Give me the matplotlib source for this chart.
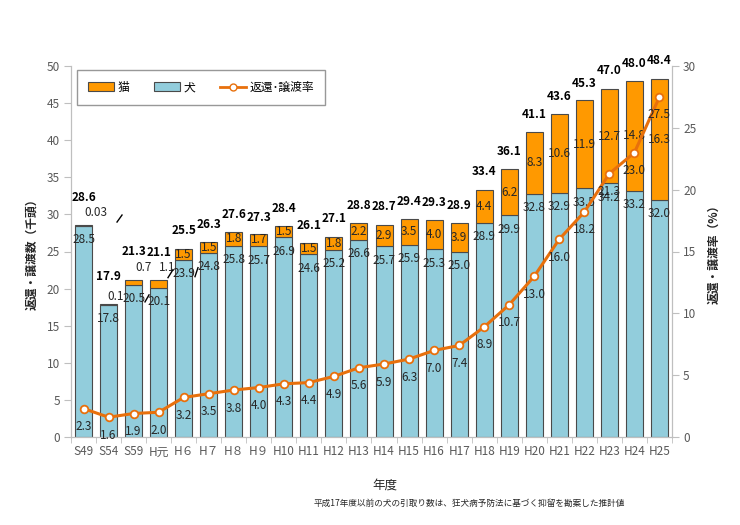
import matplotlib
matplotlib.use("Agg")
import matplotlib.pyplot as plt
from matplotlib.patches import Patch
from matplotlib.lines import Line2D

plt.rcParams['font.family'] = ['Noto Sans CJK JP', 'DejaVu Sans']

categories = ["S49", "S54", "S59", "H元", "H６", "H７", "H８", "H９", "H10", "H11", "H12",
              "H13", "H14", "H15", "H16", "H17", "H18", "H19", "H20", "H21", "H22",
              "H23", "H24", "H25"]
dogs = [28.5, 17.8, 20.5, 20.1, 23.9, 24.8, 25.8, 25.7, 26.9, 24.6, 25.2, 26.6,
        25.7, 25.9, 25.3, 25.0, 28.9, 29.9, 32.8, 32.9, 33.5, 34.2, 33.2, 32.0]
cats = [0.03, 0.1, 0.7, 1.1, 1.5, 1.5, 1.8, 1.7, 1.5, 1.5, 1.8, 2.2,
        2.9, 3.5, 4.0, 3.9, 4.4, 6.2, 8.3, 10.6, 11.9, 12.7, 14.8, 16.3]
totals = [28.6, 17.9, 21.3, 21.1, 25.5, 26.3, 27.6, 27.3, 28.4, 26.1, 27.1, 28.8,
          28.7, 29.4, 29.3, 28.9, 33.4, 36.1, 41.1, 43.6, 45.3, 47.0, 48.0, 48.4]
rates = [2.3, 1.6, 1.9, 2.0, 3.2, 3.5, 3.8, 4.0, 4.3, 4.4, 4.9, 5.6,
         5.9, 6.3, 7.0, 7.4, 8.9, 10.7, 13.0, 16.0, 18.2, 21.3, 23.0, 27.5]

DOG = "#92CDDC"
CAT = "#FF9900"
LINE = "#E8700C"
EDGE = "#4A4A4A"
TXT = "#262626"
TICK = "#595959"
AX = "#BFBFBF"

fig = plt.figure(figsize=(7.4, 5.25), dpi=100)
ax = fig.add_axes([71/740, 1-437/525, 601/740, 371/525])
x = list(range(len(categories)))

ax.bar(x, dogs, width=0.68, color=DOG, edgecolor=EDGE, linewidth=0.8, zorder=2)
ax.bar(x, cats, width=0.68, bottom=dogs, color=CAT, edgecolor=EDGE, linewidth=0.8, zorder=2)

ax.set_xlim(-0.5, len(categories) - 0.5)
ax.set_ylim(0, 50)
ax.set_yticks(range(0, 51, 5))
ax.set_xticks(x)
ax.set_xticklabels(categories)
ax.set_xticks([i - 0.5 for i in range(len(categories) + 1)], minor=True)
ax.tick_params(axis='x', which='major', length=0, pad=6, labelsize=8.5, labelcolor=TICK)
ax.tick_params(axis='x', which='minor', length=4, color=AX, direction='out')
ax.tick_params(axis='y', length=5, color=AX, labelsize=8.5, labelcolor=TICK, pad=3)
ax.spines['top'].set_visible(False)
for s in ['left', 'right', 'bottom']:
    ax.spines[s].set_color(AX)
ax.set_ylabel("返還・譲渡数（千頭）", fontsize=8.5, fontweight='bold', color=TXT, labelpad=6)

# small-cat label offsets (points) relative to bar total
small_off = {0: (9, 9), 1: (5.4, 5.2), 2: (7, 8.6), 3: (6.4, 9.6)}
for i in x:
    ax.annotate(f"{dogs[i]:.1f}", (i, dogs[i]), xytext=(0, -10), textcoords='offset points',
                ha='center', va='center', fontsize=8.5, color=TXT, zorder=5)
    if i in small_off:
        lab = "0.03" if cats[i] < 0.05 else f"{cats[i]:.1f}"
        ax.annotate(lab, (i, totals[i]), xytext=small_off[i], textcoords='offset points',
                    ha='center', va='center', fontsize=8.5, color=TXT, zorder=5)
        toff = 20
    else:
        ax.text(i, dogs[i] + cats[i] / 2, f"{cats[i]:.1f}", ha='center', va='center',
                fontsize=8.5, color=TXT, zorder=5)
        toff = 12.5
    ax.annotate(f"{totals[i]:.1f}", (i, totals[i]), xytext=(0, toff), textcoords='offset points',
                ha='center', va='center', fontsize=8.5, fontweight='bold', color='black', zorder=5)

# leader lines (pixel offsets relative to the dog segment top; +y = up)
leaders = [(0, 33.5, 3.5, 38.5, 10.5), (2, 11.4, -17, 15.4, -10),
           (4, -15.7, -18, -10.7, -10), (4, 11.3, -17, 14.3, -8)]
inv = ax.transData.inverted()
for i, x0, y0, x1, y1 in leaders:
    px, py = ax.transData.transform((i, dogs[i]))
    a = inv.transform((px + x0, py + y0))
    b = inv.transform((px + x1, py + y1))
    ax.plot([a[0], b[0]], [a[1], b[1]], color='black', lw=1.0, zorder=6, clip_on=False)

ax2 = ax.twinx()
ax2.set_ylim(0, 30)
ax2.set_yticks(range(0, 31, 5))
ax2.plot(x, rates, color=LINE, lw=2.2, marker='o', markersize=5.5,
         markerfacecolor='white', markeredgecolor=LINE, markeredgewidth=1.3, zorder=4)
for i in x:
    ax2.annotate(f"{rates[i]:.1f}", (i, rates[i]), xytext=(0, -13), textcoords='offset points',
                 ha='center', va='center', fontsize=8.5, color=TXT, zorder=5)
ax2.tick_params(axis='y', length=5, color=AX, labelsize=8.5, labelcolor=TICK, pad=3)
ax2.spines['top'].set_visible(False)
for s in ['left', 'right', 'bottom']:
    ax2.spines[s].set_color(AX)
ax2.set_ylabel("返還・譲渡率（%）", fontsize=8.5, fontweight='bold', color=TXT, labelpad=8)

handles = [Patch(facecolor=CAT, edgecolor=EDGE, linewidth=0.8),
           Patch(facecolor=DOG, edgecolor=EDGE, linewidth=0.8),
           Line2D([0], [0], color=LINE, lw=2, marker='o', markersize=5,
                  markerfacecolor='white', markeredgecolor=LINE)]
leg = ax2.legend(handles, ["猫", "犬", "返還･譲渡率"], loc='upper left',
                 bbox_to_anchor=(0.01, 0.988), borderaxespad=0, ncol=3, frameon=True,
                 fancybox=False, fontsize=8.5, handlelength=2.2, handleheight=0.8,
                 columnspacing=2.1, handletextpad=0.3, borderpad=0.9)
leg.get_frame().set_edgecolor("#7F7F7F")
leg.get_frame().set_linewidth(1.0)

fig.text(385/740, 1-485/525, "年度", ha='center', va='center', fontsize=9, color=TXT)
fig.text(469/740, 1-503/525, "平成17年度以前の犬の引取り数は、狂犬病予防法に基づく抑留を勘案した推計値",
         ha='center', va='center', fontsize=6.2, color=TXT)

fig.savefig("out.png", dpi=100)
